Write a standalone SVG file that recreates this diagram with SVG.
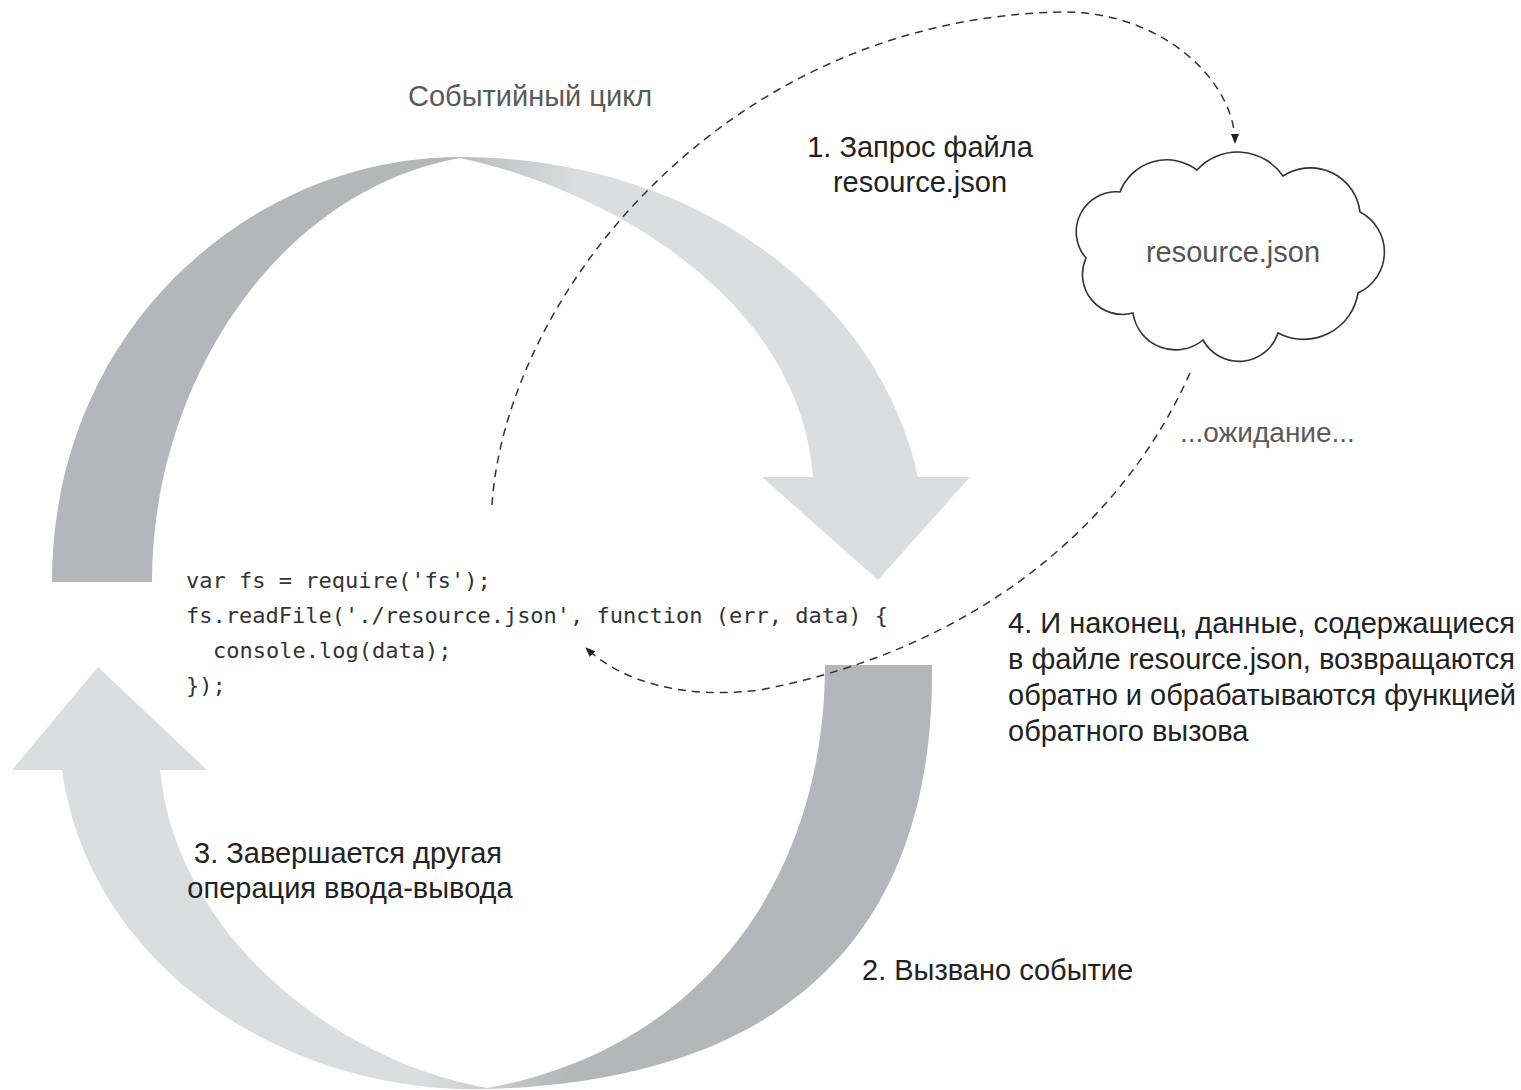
<svg xmlns="http://www.w3.org/2000/svg" width="1521" height="1090" viewBox="0 0 1521 1090">
  <style>
    .lbl { font-family: "Liberation Sans", Arial, sans-serif; font-size: 29px; fill: #222; }
    .soft { fill: #5a5a5a; }
    .code { font-family: "DejaVu Sans Mono", "Liberation Mono", monospace; font-size: 22px; fill: #333; }
    .dash { fill: none; stroke: #333; stroke-width: 1.5; stroke-dasharray: 8 6; }
    .cloud { fill: #fff; stroke: #333; stroke-width: 1.6; }
  </style>
  <defs>
    <linearGradient id="topFade" gradientUnits="userSpaceOnUse" x1="440" y1="0" x2="580" y2="0">
      <stop offset="0" stop-color="#b5b6b9"/>
      <stop offset="1" stop-color="#dcdddf"/>
    </linearGradient>
    <linearGradient id="bottomFade" gradientUnits="userSpaceOnUse" x1="420" y1="0" x2="570" y2="0">
      <stop offset="0" stop-color="#dcdddf"/>
      <stop offset="1" stop-color="#b5b6b9"/>
    </linearGradient>
    <marker id="tip" viewBox="0 0 10 10" refX="9" refY="5" markerWidth="10" markerHeight="10" markerUnits="userSpaceOnUse" orient="auto">
      <path d="M0,1 L10,5 L0,9 Z" fill="#222"/>
    </marker>
  </defs>

  <!-- event loop: upper ribbon arrow -->
  <g id="loop-top">
    <path fill="url(#topFade)" d="M52,582 C52,330 250,157 460,157 C700,157 880,300 918,477 L970,477 L878,580 L762,477 L813,477 C800,300 610,190 460,158 C280,190 152,380 152,582 Z"/>
  </g>

  <!-- event loop: lower ribbon arrow -->
  <g id="loop-bottom">
    <path fill="url(#bottomFade)" d="M825,665 L932,665 C935,920 800,1080 487,1089 C290,1095 90,970 62,770 L12,770 L98,667 L207,770 L160,770 C175,930 330,1060 487,1088 C700,1050 825,880 825,665 Z"/>
  </g>

  <g id="loop-label">
    <text class="lbl soft" x="408" y="106">Событийный цикл</text>
  </g>

  <!-- file resource -->
  <g id="resource">
    <path class="cloud" d="M1197,170 A55,55 0 0 1 1283,176 A50,50 0 0 1 1360,212 A45,45 0 0 1 1358,293 A55,55 0 0 1 1278,333 A41,41 0 0 1 1203,340 A43,43 0 0 1 1133,313 A40,40 0 0 1 1086,258 A40,40 0 0 1 1120,192 A50,50 0 0 1 1197,170 Z"/>
    <text class="lbl" x="1233" y="262" text-anchor="middle" style="fill:#555">resource.json</text>
  </g>

  <!-- source code -->
  <g id="code">
    <text class="code" x="186" y="588">var fs = require('fs');</text>
    <text class="code" x="186" y="623">fs.readFile('./resource.json', function (err, data) {</text>
    <text class="code" x="213" y="658">console.log(data);</text>
    <text class="code" x="186" y="693">});</text>
  </g>

  <!-- request and callback paths -->
  <g id="connectors">
    <path class="dash" marker-end="url(#tip)" d="M492,505 C505,300 720,20 1060,12 C1160,10 1235,80 1235,143"/>
    <path class="dash" marker-end="url(#tip)" d="M1190,373 C1120,530 970,650 760,690 C680,700 620,680 586,648"/>
  </g>

  <!-- step labels -->
  <g id="step-1">
    <text class="lbl" x="920" y="157" text-anchor="middle">1. Запрос файла</text>
    <text class="lbl" x="920" y="192" text-anchor="middle">resource.json</text>
  </g>
  <g id="waiting">
    <text class="lbl soft" x="1180" y="442" style="font-size:28px">...ожидание...</text>
  </g>
  <g id="step-4">
    <text class="lbl" x="1008" y="633">4. И наконец, данные, содержащиеся</text>
    <text class="lbl" x="1008" y="669">в файле resource.json, возвращаются</text>
    <text class="lbl" x="1008" y="705">обратно и обрабатываются функцией</text>
    <text class="lbl" x="1008" y="741">обратного вызова</text>
  </g>
  <g id="step-3">
    <text class="lbl" x="348" y="863" text-anchor="middle">3. Завершается другая</text>
    <text class="lbl" x="350" y="898" text-anchor="middle">операция ввода-вывода</text>
  </g>
  <g id="step-2">
    <text class="lbl" x="862" y="980">2. Вызвано событие</text>
  </g>
</svg>
